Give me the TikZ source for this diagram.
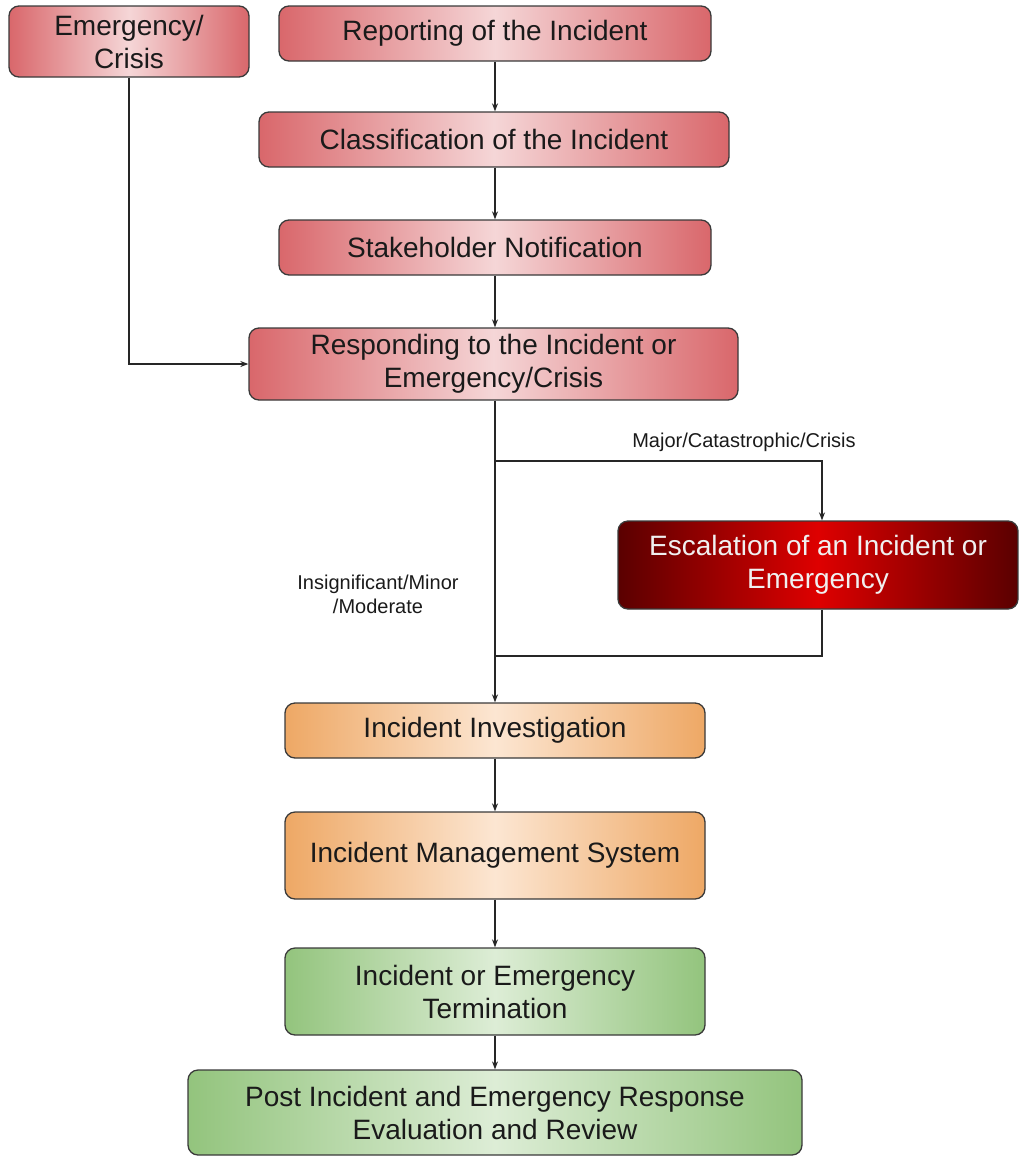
\documentclass[tikz,border=0pt]{standalone}
\usepackage{fontspec}
\setmainfont{Liberation Sans}
\usetikzlibrary{arrows.meta,calc}
\definecolor{redE}{HTML}{D9676B}
\definecolor{redC}{HTML}{F5D6D7}
\definecolor{escE}{HTML}{5A0000}
\definecolor{escC}{HTML}{DE0000}
\definecolor{orE}{HTML}{EEA865}
\definecolor{orC}{HTML}{FCE6D2}
\definecolor{grE}{HTML}{93C47D}
\definecolor{grC}{HTML}{DDEDD6}
\definecolor{txt}{HTML}{1A1A1A}
\definecolor{bord}{HTML}{3A3A3A}
\tikzset{
  box/.style={draw=bord, line width=1.3pt, rounded corners=10pt, align=center,
    font=\fontsize{28}{33}\selectfont, text=txt, inner sep=0pt},
  redbox/.style={box, left color=redE, right color=redE, middle color=redC},
  escbox/.style={box, left color=escE, right color=escE, middle color=escC, text=white!94!black},
  orbox/.style={box, left color=orE, right color=orE, middle color=orC},
  grbox/.style={box, left color=grE, right color=grE, middle color=grC},
  conn/.style={line width=1.2pt, draw=black!85},
  arr/.style={conn, -{Stealth[length=8pt,width=6pt]}},
  lbl/.style={font=\fontsize{20}{24}\selectfont, text=txt, align=center}
}
\begin{document}
\begin{tikzpicture}[x=1pt,y=-1pt]
\useasboundingbox (0,0) rectangle (1018,1157);
\node[redbox, minimum width=240, minimum height=71] (em) at (129,41.5) {Emergency/\\Crisis};
\node[redbox, minimum width=432, minimum height=55] (rep) at (495,33.5) {Reporting of the Incident};
\node[redbox, minimum width=470, minimum height=55] (cla) at (494,139.5) {Classification of the Incident};
\node[redbox, minimum width=432, minimum height=55] (sta) at (495,247.5) {Stakeholder Notification};
\node[redbox, minimum width=489, minimum height=72] (res) at (493.5,364) {Responding to the Incident or\\Emergency/Crisis};
\node[escbox, minimum width=400, minimum height=88] (esc) at (818,565) {Escalation of an Incident or\\Emergency};
\node[orbox, minimum width=420, minimum height=55] (inv) at (495,730.5) {Incident Investigation};
\node[orbox, minimum width=420, minimum height=87] (ims) at (495,855.5) {Incident Management System};
\node[grbox, minimum width=420, minimum height=87] (ter) at (495,991.5) {Incident or Emergency\\Termination};
\node[grbox, minimum width=614, minimum height=85] (post) at (495,1112.5) {Post Incident and Emergency Response\\Evaluation and Review};

\coordinate (br) at (495,461);
\coordinate (jn) at (495,656);

\draw[arr] (rep.south -| 495,0) -- (cla.north -| 495,0);
\draw[arr] (cla.south -| 495,0) -- (sta.north -| 495,0);
\draw[arr] (sta.south -| 495,0) -- (res.north -| 495,0);
\draw[arr] (em.south) |- (res.west);
\draw[arr] (res.south -| 495,0) -- (inv.north -| 495,0);
\draw[arr] (br) -| (esc.north -| 822,0);
\draw[conn] (esc.south -| 822,0) |- (jn);
\draw[arr] (inv.south -| 495,0) -- (ims.north -| 495,0);
\draw[arr] (ims.south -| 495,0) -- (ter.north -| 495,0);
\draw[arr] (ter.south -| 495,0) -- (post.north -| 495,0);

\node[lbl] (l1) at (744,442) {Major/Catastrophic/Crisis};
\node[lbl] (l2) at (378,594) {Insignificant/Minor\\/Moderate};
\end{tikzpicture}
\end{document}
